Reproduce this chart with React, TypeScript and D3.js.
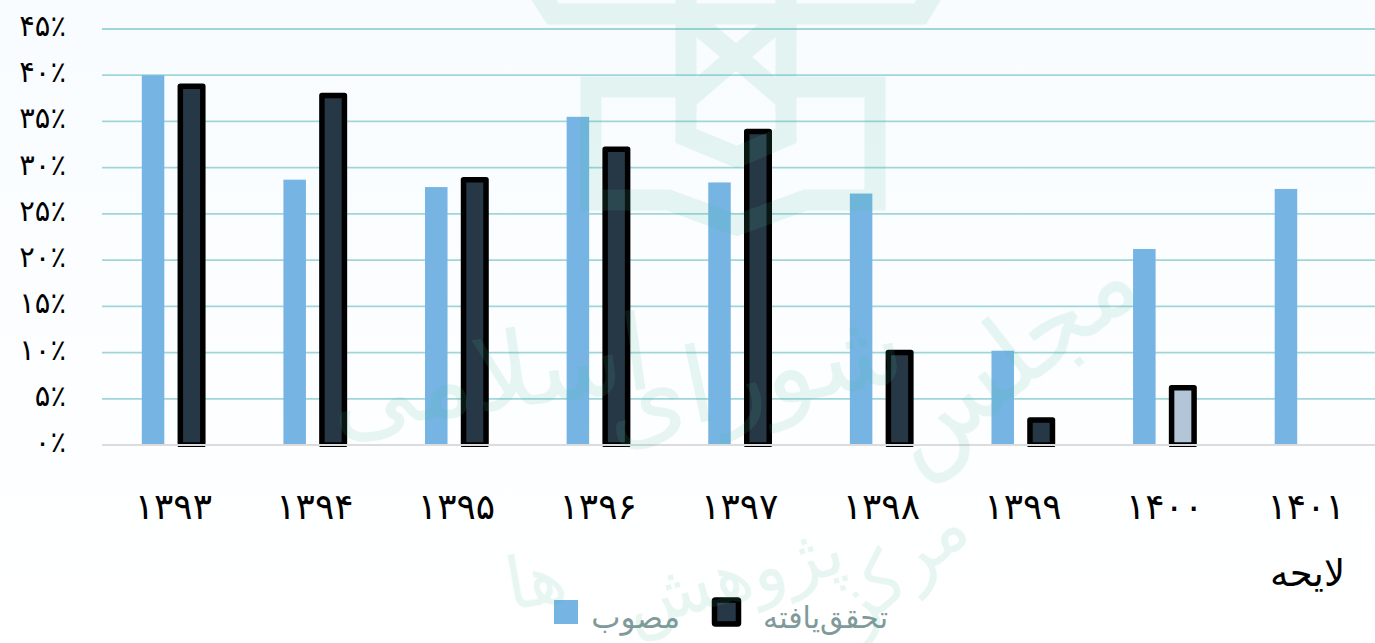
import React from "react";
import * as d3 from "d3";

const years = ["۱۳۹۳", "۱۳۹۴", "۱۳۹۵", "۱۳۹۶", "۱۳۹۷", "۱۳۹۸", "۱۳۹۹", "۱۴۰۰", "۱۴۰۱"];
const approved = [40, 28.7, 27.9, 35.5, 28.4, 27.2, 10.2, 21.2, 27.7];
const realized = [38.8, 37.8, 28.7, 32, 33.9, 10, 2.7, 6.2, null];
const ticks = [0, 5, 10, 15, 20, 25, 30, 35, 40, 45];
const toFa = (n: number) => String(n).replace(/\d/g, (d) => "۰۱۲۳۴۵۶۷۸۹"[+d]);

const W = 1375;
const H = 643;
const FONT = "'DejaVu Sans', sans-serif";
const WM = "#52b99a";

export default function App() {
  const x = d3.scaleBand<string>().domain(years).range([102.5, 1377]);
  const y = d3.scaleLinear().domain([0, 45]).range([445, 29]);
  const barW = 22.5;

  return (
    <svg
      width={W}
      height={H}
      style={{ position: "absolute", left: 0, top: 0, fontFamily: FONT }}
    >
      <defs>
        <linearGradient id="bg" x1="0" y1="0" x2="0" y2="1">
          <stop offset="0" stopColor="#f8fcff" />
          <stop offset="1" stopColor="#ffffff" />
        </linearGradient>
        <clipPath id="plot">
          <rect x={0} y={0} width={W} height={447} />
        </clipPath>
      </defs>
      <rect width={W} height={H} fill="url(#bg)" />

      {ticks.map((t) => (
        <g key={t}>
          {t > 0 && (
            <line x1={102} x2={W} y1={y(t)} y2={y(t)} stroke="#9fd6da" strokeWidth={1.8} />
          )}
          <text x={66} y={y(t) + 7} textAnchor="end" fontSize={29} fill="#000">
            {toFa(t)}٪
          </text>
        </g>
      ))}

      {years.map((yr, i) => {
        const cx = x(yr)! + x.bandwidth() / 2;
        const r = realized[i];
        return (
          <g key={yr}>
            <rect
              x={cx - 31.5}
              y={y(approved[i])}
              width={barW}
              height={y(0) - y(approved[i])}
              fill="#75b4e3"
            />
            {r !== null && (
              <g clipPath="url(#plot)">
                <rect
                  x={cx + 7}
                  y={y(r)}
                  width={barW}
                  height={y(0) - y(r)}
                  fill={yr === "۱۴۰۰" ? "#b3c6d7" : "#263746"}
                  stroke="#000"
                  strokeWidth={5.5}
                  strokeLinejoin="round"
                />
              </g>
            )}
            <text x={cx} y={519} textAnchor="middle" fontSize={36} fill="#000">
              {yr}
            </text>
          </g>
        );
      })}
      <line x1={102} x2={W} y1={445} y2={445} stroke="#dcdcdc" strokeWidth={1.8} />

      <text x={1345} y={586} textAnchor="end" fontSize={37} fill="#000">
        لایحه
      </text>

      {/* legend */}
      <rect x={554} y={600} width={24} height={24} fill="#75b4e3" />
      <text x={680} y={628} textAnchor="end" fontSize={31} fill="#7f9a9a">
        مصوب
      </text>
      <rect x={714.5} y={600} width={24} height={24} rx={1} fill="#263746" stroke="#000" strokeWidth={5.5} strokeLinejoin="round" />
      <text x={888} y={628} textAnchor="end" fontSize={30} fill="#7f9a9a">
        تحقق‌یافته
      </text>

      {/* watermark */}
      <g opacity={0.13} pointerEvents="none">
        <g fill="none" stroke={WM} strokeWidth={21}>
          <path d="M540,-6 L553,14 L920,14 L932,-6" />
          <path d="M686,-5 V136 L737,157 L786,136 V-5" />
          <path d="M686,14 L786,100 M786,14 L686,100" />
          <path d="M686,87 H591 V200 H668 L737,225 L806,200 H875 V87 H786" />
        </g>
        <g fill={WM} textAnchor="middle">
          <text fontSize={105} transform="translate(1030,385) rotate(-38)">مجلس</text>
          <text fontSize={105} transform="translate(760,410) rotate(-12)">شورای</text>
          <text fontSize={105} transform="translate(495,410) rotate(-8)">اسلامی</text>
          <text fontSize={72} transform="translate(915,585) rotate(-40)">مرکز</text>
          <text fontSize={72} transform="translate(740,600) rotate(-15)">پژوهش</text>
          <text fontSize={72} transform="translate(540,605) rotate(-10)">ها</text>
        </g>
      </g>
    </svg>
  );
}
